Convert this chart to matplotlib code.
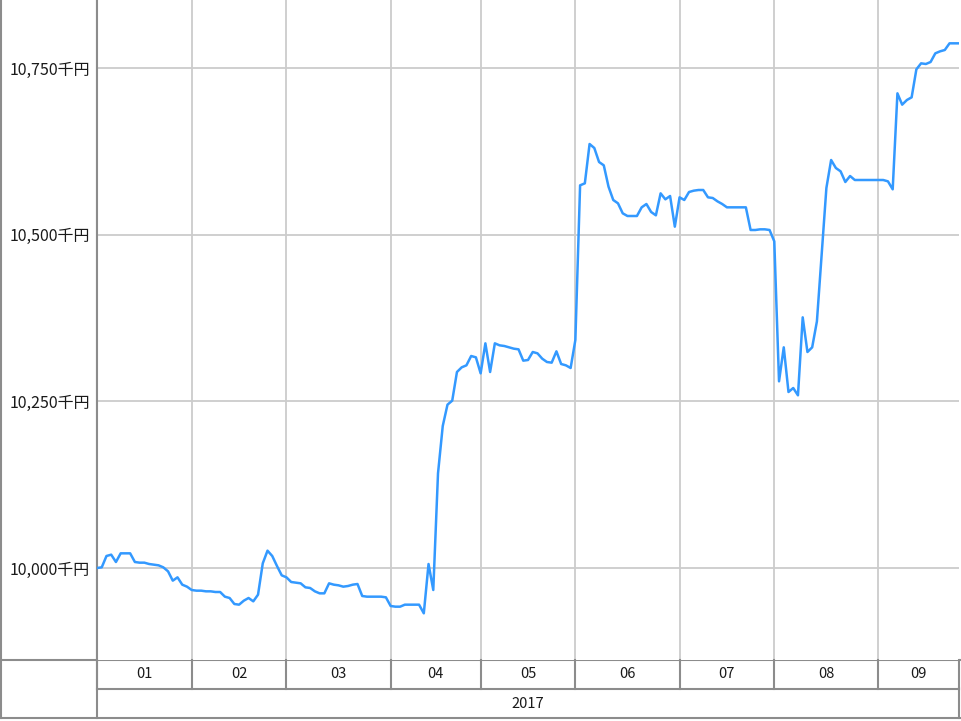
import numpy as np
import matplotlib.pyplot as plt
from matplotlib.lines import Line2D

plt.rcParams['font.family'] = ['Noto Sans CJK JP', 'DejaVu Sans']

# trading days per month (2017-01 .. 2017-09)
months = ['01', '02', '03', '04', '05', '06', '07', '08', '09']
days_per_month = [20, 20, 22, 19, 20, 22, 20, 22, 17]
year_label = '2017'

# asset value (thousand yen), one value per trading day
values = [
    10000, 10001, 10018, 10020, 10009, 10022, 10022, 10022, 10009, 10008,
    10008, 10006, 10005, 10004, 10001, 9995, 9981, 9986, 9975, 9972,
    9967, 9966, 9966, 9965, 9965, 9964, 9964, 9957, 9955, 9946,
    9945, 9951, 9955, 9950, 9960, 10007, 10026, 10018, 10003, 9989,
    9986, 9979, 9978, 9977, 9971, 9970, 9965, 9962, 9962, 9977,
    9975, 9974, 9972, 9973, 9975, 9976, 9958, 9957, 9957, 9957,
    9957, 9956, 9943, 9942, 9942, 9945, 9945, 9945, 9945, 9932,
    10006, 9967, 10142, 10213, 10245, 10251, 10294, 10301, 10304, 10318,
    10316, 10292, 10337, 10294, 10337, 10334, 10333, 10331, 10329, 10328,
    10311, 10312, 10324, 10322, 10314, 10309, 10308, 10325, 10306, 10304,
    10300, 10342, 10574, 10577, 10636, 10630, 10609, 10604, 10572, 10552,
    10547, 10532, 10528, 10528, 10528, 10541, 10546, 10534, 10529, 10562,
    10553, 10558, 10512, 10556, 10552, 10564, 10566, 10567, 10567, 10556,
    10555, 10550, 10546, 10541, 10541, 10541, 10541, 10541, 10507, 10507,
    10508, 10508, 10507, 10490, 10280, 10331, 10264, 10270, 10259, 10376,
    10324, 10331, 10370, 10470, 10570, 10612, 10600, 10595, 10579, 10588,
    10582, 10582, 10582, 10582, 10582, 10582, 10582, 10580, 10568, 10712,
    10695, 10702, 10706, 10748, 10757, 10756, 10759, 10772, 10775, 10777,
    10787, 10787, 10787,
]
yticks = [10000, 10250, 10500, 10750]

W, H = 962, 721
grid_c = '#cccccc'
frame_c = '#8c8c8c'
line_c = '#3399ff'
text_c = '#1a1a1a'

bounds = np.concatenate([[0], np.cumsum(days_per_month)])
total = bounds[-1]
x = np.arange(len(values))

fig = plt.figure(figsize=(W / 100, H / 100), dpi=100)

# background axes in pixel coordinates for the table frame
bg = fig.add_axes([0, 0, 1, 1])
bg.set_xlim(0, W)
bg.set_ylim(H, 0)
bg.axis('off')

# main plot area
left, right, top, bottom = 97, 959, 0, 660
ax = fig.add_axes([left / W, 1 - bottom / H, (right - left) / W, (bottom - top) / H])
ax.plot(x, values, color=line_c, lw=1.8, solid_joinstyle='round', zorder=3)
ax.set_xlim(0, total)
ax.set_ylim(9862, 10852)
ax.set_yticks(yticks)
ax.set_yticklabels(['{:,}千円'.format(v) for v in yticks], fontsize=11.5, color=text_c)
ax.set_xticks([])
ax.tick_params(axis='y', length=0, pad=5)
for b in bounds[1:-1]:
    ax.axvline(b, color=grid_c, lw=1.3, zorder=1)
for v in yticks:
    ax.axhline(v, color=grid_c, lw=1.3, zorder=1)
for s in ['top', 'right', 'bottom']:
    ax.spines[s].set_visible(False)
ax.spines['left'].set_color(frame_c)
ax.spines['left'].set_linewidth(1.5)

# month / year rows
bx = fig.add_axes([left / W, 1 - 718 / H, (right - left) / W, (718 - 660) / H])
bx.set_xlim(0, total)
bx.set_ylim(2, 0)
bx.axis('off')
for b in bounds:
    bx.plot([b, b], [0, 1], color=frame_c, lw=1.5, clip_on=False)
bx.plot([0, total], [1, 1], color=frame_c, lw=1.5, clip_on=False)
for i, m in enumerate(months):
    bx.text((bounds[i] + bounds[i + 1]) / 2, 0.5, m, ha='center', va='center',
            fontsize=10.5, color=text_c)
bx.text(total / 2, 1.5, year_label, ha='center', va='center', fontsize=10.5, color=text_c)

# outer frame lines
for seg in [[(0, 660), (W, 660)], [(0, 718), (W, 718)], [(1.5, 0), (1.5, 718)],
            [(97, 0), (97, 718)], [(959, 688), (959, 718)]]:
    (x0, y0), (x1, y1) = seg
    bg.add_line(Line2D([x0, x1], [y0, y1], color=frame_c, lw=1.5))

fig.savefig('out.png', dpi=100)
